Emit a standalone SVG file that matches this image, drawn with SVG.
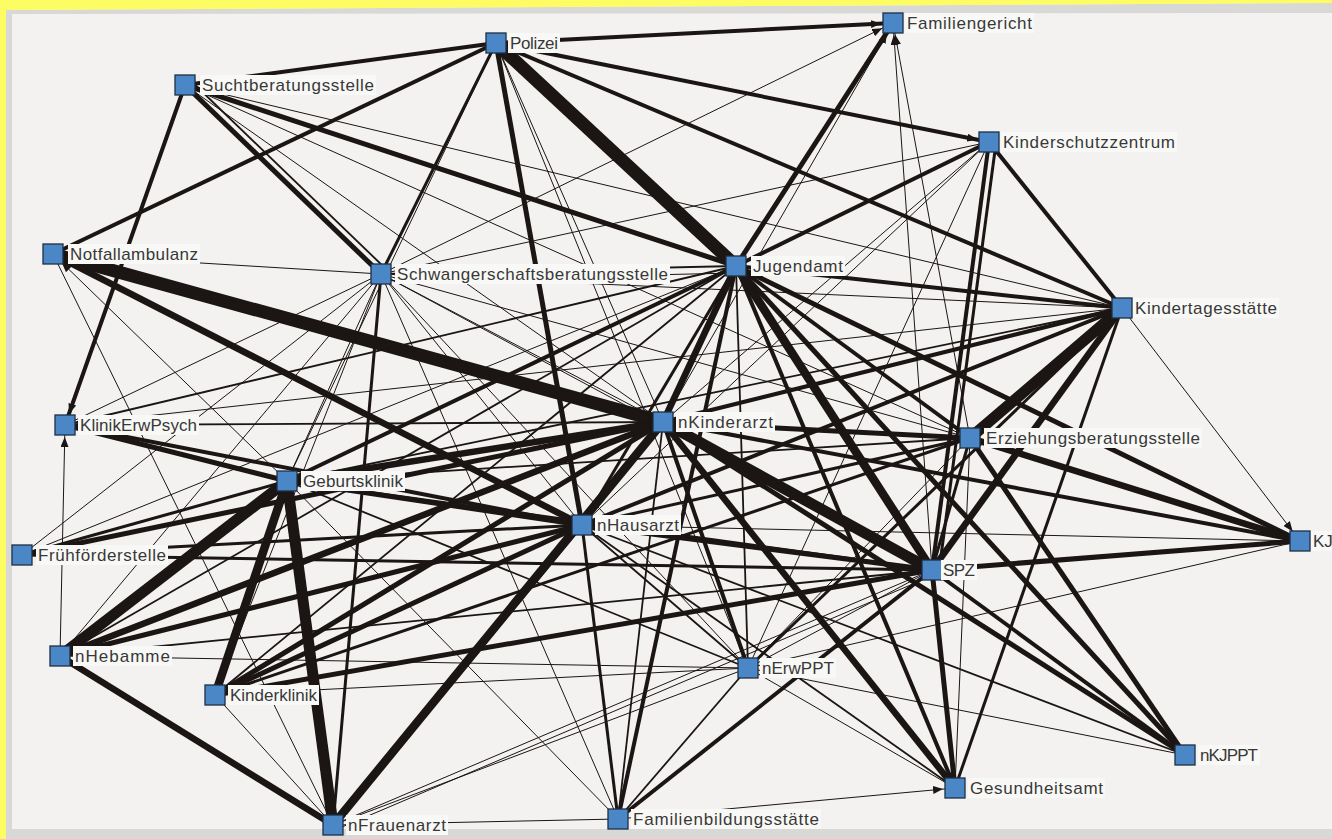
<svg xmlns="http://www.w3.org/2000/svg" width="1332" height="839" viewBox="0 0 1332 839">
<defs>
<style>
.bg{fill:#f3f2f0}
.band{fill:#d8d8d6}
.yel{fill:#fdfc63}
#edges line{stroke:#1b1513;stroke-linecap:butt}
.e1{stroke-width:1}
.e2{stroke-width:1.8}
.e3{stroke-width:3}
.e4{stroke-width:4}
.e5{stroke-width:5}
.e6{stroke-width:6.5}
.e8{stroke-width:8.5}
.e10{stroke-width:11}
.e12{stroke-width:13}
.sq{fill:#4b87c6;stroke:#1e2e44;stroke-width:1.3}
.lb{fill:#f8f8f6}
.tx{font-family:"Liberation Sans",Arial,sans-serif;font-size:17px;fill:#383838}
</style>
<marker id="arr" viewBox="0 0 10 8" markerWidth="10" markerHeight="8" refX="22" refY="4" orient="auto" markerUnits="userSpaceOnUse">
<path d="M0,0 L10,4 L0,8 z" fill="#1b1513"/>
</marker>
</defs>
<rect class="bg" x="0" y="0" width="1332" height="839"/>
<polygon class="band" points="0,10 1332,3 1332,13 0,14"/>
<rect class="band" x="6" y="0" width="6" height="839"/>
<rect class="band" x="0" y="829" width="1332" height="10"/>
<polygon class="yel" points="0,0 1332,0 1332,3 0,10"/>
<rect class="yel" x="0" y="0" width="6" height="839"/>

<g id="edges">
<line class="e4" x1="496" y1="43" x2="893" y2="23" marker-end="url(#arr)"/>
<line class="e4" x1="496" y1="43" x2="185" y2="85"/>
<line class="e4" x1="496" y1="43" x2="53" y2="254"/>
<line class="e12" x1="496" y1="43" x2="736" y2="266"/>
<line class="e4" x1="496" y1="43" x2="989" y2="142" marker-end="url(#arr)"/>
<line class="e4" x1="496" y1="43" x2="1122" y2="308"/>
<line class="e3" x1="496" y1="43" x2="381" y2="274"/>
<line class="e1" x1="496" y1="43" x2="287" y2="481"/>
<line class="e5" x1="496" y1="43" x2="582" y2="525"/>
<line class="e1" x1="496" y1="43" x2="663" y2="422"/>
<line class="e1" x1="496" y1="43" x2="748" y2="668"/>
<line class="e5" x1="736" y1="266" x2="893" y2="23"/>
<line class="e1" x1="381" y1="274" x2="893" y2="23" marker-end="url(#arr)"/>
<line class="e1" x1="663" y1="422" x2="893" y2="23" marker-end="url(#arr)"/>
<line class="e1" x1="932" y1="570" x2="893" y2="23" marker-end="url(#arr)"/>
<line class="e1" x1="970" y1="438" x2="893" y2="23" marker-end="url(#arr)"/>
<line class="e5" x1="185" y1="85" x2="381" y2="274"/>
<line class="e2" x1="190" y1="80" x2="386" y2="269"/>
<line class="e4" x1="185" y1="85" x2="65" y2="425" marker-end="url(#arr)"/>
<line class="e5" x1="185" y1="85" x2="736" y2="266"/>
<line class="e1" x1="185" y1="85" x2="970" y2="438"/>
<line class="e1" x1="185" y1="85" x2="663" y2="422"/>
<line class="e1" x1="185" y1="85" x2="1122" y2="308"/>
<line class="e1" x1="989" y1="142" x2="381" y2="274"/>
<line class="e4" x1="989" y1="142" x2="736" y2="266"/>
<line class="e1" x1="989" y1="142" x2="663" y2="422"/>
<line class="e1" x1="989" y1="142" x2="582" y2="525"/>
<line class="e4" x1="989" y1="142" x2="932" y2="570"/>
<line class="e3" x1="996" y1="143" x2="939" y2="571"/>
<line class="e1" x1="989" y1="142" x2="748" y2="668"/>
<line class="e4" x1="989" y1="142" x2="1122" y2="308"/>
<line class="e12" x1="53" y1="254" x2="663" y2="422"/>
<line class="e6" x1="53" y1="254" x2="582" y2="525"/>
<line class="e1" x1="53" y1="254" x2="381" y2="274"/>
<line class="e1" x1="53" y1="254" x2="333" y2="825"/>
<line class="e1" x1="287" y1="481" x2="53" y2="254" marker-end="url(#arr)"/>
<line class="e1" x1="381" y1="274" x2="663" y2="422"/>
<line class="e1" x1="381" y1="274" x2="582" y2="525"/>
<line class="e1" x1="381" y1="274" x2="287" y2="481"/>
<line class="e1" x1="381" y1="274" x2="65" y2="425"/>
<line class="e1" x1="381" y1="274" x2="22" y2="555"/>
<line class="e1" x1="381" y1="274" x2="60" y2="656"/>
<line class="e1" x1="381" y1="274" x2="215" y2="695"/>
<line class="e3" x1="381" y1="274" x2="333" y2="825"/>
<line class="e1" x1="381" y1="274" x2="618" y2="819"/>
<line class="e1" x1="381" y1="274" x2="748" y2="668"/>
<line class="e1" x1="381" y1="274" x2="932" y2="570"/>
<line class="e1" x1="381" y1="274" x2="970" y2="438"/>
<line class="e1" x1="381" y1="274" x2="1122" y2="308"/>
<line class="e2" x1="381" y1="274" x2="736" y2="266"/>
<line class="e1" x1="381" y1="281" x2="736" y2="273"/>
<line class="e6" x1="736" y1="266" x2="663" y2="422"/>
<line class="e3" x1="736" y1="266" x2="582" y2="525"/>
<line class="e4" x1="736" y1="266" x2="287" y2="481"/>
<line class="e2" x1="736" y1="266" x2="60" y2="656"/>
<line class="e2" x1="736" y1="266" x2="215" y2="695"/>
<line class="e2" x1="736" y1="266" x2="65" y2="425"/>
<line class="e1" x1="736" y1="266" x2="22" y2="555"/>
<line class="e8" x1="736" y1="266" x2="932" y2="570"/>
<line class="e5" x1="736" y1="266" x2="1185" y2="755"/>
<line class="e5" x1="736" y1="266" x2="1300" y2="541"/>
<line class="e4" x1="736" y1="266" x2="970" y2="438"/>
<line class="e4" x1="736" y1="266" x2="1122" y2="308"/>
<line class="e4" x1="736" y1="266" x2="955" y2="788"/>
<line class="e4" x1="736" y1="266" x2="618" y2="819"/>
<line class="e2" x1="736" y1="266" x2="748" y2="668"/>
<line class="e10" x1="1122" y1="308" x2="970" y2="438"/>
<line class="e6" x1="1122" y1="308" x2="932" y2="570"/>
<line class="e1" x1="1122" y1="308" x2="1300" y2="541" marker-end="url(#arr)"/>
<line class="e4" x1="1122" y1="308" x2="663" y2="422"/>
<line class="e4" x1="1122" y1="308" x2="582" y2="525"/>
<line class="e2" x1="1122" y1="308" x2="287" y2="481"/>
<line class="e1" x1="1122" y1="308" x2="65" y2="425"/>
<line class="e3" x1="1122" y1="308" x2="955" y2="788"/>
<line class="e3" x1="1122" y1="308" x2="748" y2="668"/>
<line class="e5" x1="663" y1="422" x2="970" y2="438"/>
<line class="e4" x1="663" y1="422" x2="1300" y2="541"/>
<line class="e10" x1="663" y1="422" x2="932" y2="570"/>
<line class="e5" x1="663" y1="422" x2="1185" y2="755"/>
<line class="e6" x1="663" y1="422" x2="955" y2="788"/>
<line class="e4" x1="663" y1="422" x2="748" y2="668"/>
<line class="e2" x1="663" y1="422" x2="618" y2="819"/>
<line class="e3" x1="663" y1="422" x2="582" y2="525"/>
<line class="e6" x1="663" y1="422" x2="287" y2="481"/>
<line class="e5" x1="663" y1="422" x2="22" y2="555"/>
<line class="e6" x1="663" y1="422" x2="60" y2="656"/>
<line class="e5" x1="663" y1="422" x2="215" y2="695"/>
<line class="e8" x1="663" y1="422" x2="333" y2="825"/>
<line class="e2" x1="663" y1="422" x2="65" y2="425"/>
<line class="e6" x1="970" y1="438" x2="1300" y2="541"/>
<line class="e5" x1="970" y1="438" x2="1185" y2="755"/>
<line class="e3" x1="970" y1="438" x2="932" y2="570"/>
<line class="e1" x1="970" y1="438" x2="955" y2="788"/>
<line class="e3" x1="970" y1="438" x2="582" y2="525"/>
<line class="e3" x1="970" y1="438" x2="215" y2="695"/>
<line class="e2" x1="970" y1="438" x2="287" y2="481"/>
<line class="e1" x1="970" y1="438" x2="748" y2="668"/>
<line class="e5" x1="582" y1="525" x2="932" y2="570"/>
<line class="e1" x1="582" y1="525" x2="1300" y2="541"/>
<line class="e2" x1="582" y1="525" x2="1185" y2="755"/>
<line class="e2" x1="582" y1="525" x2="955" y2="788"/>
<line class="e3" x1="582" y1="525" x2="618" y2="819"/>
<line class="e5" x1="582" y1="525" x2="287" y2="481"/>
<line class="e5" x1="582" y1="525" x2="60" y2="656"/>
<line class="e5" x1="582" y1="525" x2="215" y2="695"/>
<line class="e3" x1="582" y1="525" x2="22" y2="555"/>
<line class="e4" x1="582" y1="525" x2="333" y2="825"/>
<line class="e4" x1="582" y1="525" x2="65" y2="425"/>
<line class="e2" x1="582" y1="525" x2="748" y2="668"/>
<line class="e5" x1="932" y1="570" x2="1300" y2="541"/>
<line class="e5" x1="932" y1="570" x2="955" y2="788"/>
<line class="e4" x1="932" y1="570" x2="1185" y2="755"/>
<line class="e4" x1="932" y1="570" x2="618" y2="819"/>
<line class="e5" x1="932" y1="570" x2="215" y2="695"/>
<line class="e3" x1="932" y1="570" x2="22" y2="555"/>
<line class="e3" x1="932" y1="570" x2="287" y2="481"/>
<line class="e2" x1="932" y1="570" x2="60" y2="656"/>
<line class="e1" x1="932" y1="570" x2="333" y2="825"/>
<line class="e1" x1="934" y1="575" x2="335" y2="830"/>
<line class="e1" x1="932" y1="570" x2="748" y2="668"/>
<line class="e10" x1="287" y1="481" x2="60" y2="656"/>
<line class="e8" x1="287" y1="481" x2="215" y2="695"/>
<line class="e10" x1="287" y1="481" x2="333" y2="825"/>
<line class="e5" x1="287" y1="481" x2="65" y2="425"/>
<line class="e3" x1="287" y1="481" x2="22" y2="555"/>
<line class="e1" x1="287" y1="481" x2="618" y2="819"/>
<line class="e2" x1="287" y1="481" x2="748" y2="668"/>
<line class="e6" x1="60" y1="656" x2="333" y2="825"/>
<line class="e1" x1="60" y1="656" x2="748" y2="668"/>
<line class="e1" x1="60" y1="656" x2="65" y2="425" marker-end="url(#arr)"/>
<line class="e1" x1="215" y1="695" x2="333" y2="825"/>
<line class="e1" x1="215" y1="695" x2="748" y2="668"/>
<line class="e1" x1="333" y1="825" x2="618" y2="819"/>
<line class="e1" x1="333" y1="825" x2="748" y2="668"/>
<line class="e1" x1="618" y1="819" x2="955" y2="788" marker-end="url(#arr)"/>
<line class="e2" x1="618" y1="819" x2="748" y2="668"/>
<line class="e1" x1="748" y1="668" x2="1300" y2="541"/>
<line class="e1" x1="748" y1="668" x2="1185" y2="755"/>
<line class="e1" x1="748" y1="668" x2="955" y2="788"/>
</g>

<g id="node-Polizei"><rect class="sq" x="486" y="33" width="20" height="20"/><rect class="lb" x="508" y="33" width="52" height="20"/><text class="tx" x="510" y="49" textLength="48">Polizei</text></g>
<g id="node-Familiengericht"><rect class="sq" x="883" y="13" width="20" height="20"/><rect class="lb" x="905" y="13" width="129" height="20"/><text class="tx" x="907" y="29" textLength="125">Familiengericht</text></g>
<g id="node-Suchtberatungsstelle"><rect class="sq" x="175" y="75" width="20" height="20"/><rect class="lb" x="200" y="75" width="176" height="20"/><text class="tx" x="202" y="91" textLength="172">Suchtberatungsstelle</text></g>
<g id="node-Kinderschutzzentrum"><rect class="sq" x="979" y="132" width="20" height="20"/><rect class="lb" x="1001" y="132" width="176" height="20"/><text class="tx" x="1003" y="148" textLength="172">Kinderschutzzentrum</text></g>
<g id="node-Notfallambulanz"><rect class="sq" x="43" y="244" width="20" height="20"/><rect class="lb" x="68" y="244" width="132" height="20"/><text class="tx" x="70" y="260" textLength="128">Notfallambulanz</text></g>
<g id="node-Schwangerschaftsberatungsstelle"><rect class="sq" x="371" y="264" width="20" height="20"/><rect class="lb" x="395" y="264" width="275" height="20"/><text class="tx" x="397" y="280" textLength="271">Schwangerschaftsberatungsstelle</text></g>
<g id="node-Jugendamt"><rect class="sq" x="726" y="256" width="20" height="20"/><rect class="lb" x="751" y="256" width="94" height="20"/><text class="tx" x="753" y="272" textLength="90">Jugendamt</text></g>
<g id="node-Kindertagesstaette"><rect class="sq" x="1112" y="298" width="20" height="20"/><rect class="lb" x="1133" y="298" width="146" height="20"/><text class="tx" x="1135" y="314" textLength="142">Kindertagesstätte</text></g>
<g id="node-KlinikErwPsych"><rect class="sq" x="55" y="415" width="20" height="20"/><rect class="lb" x="78" y="415" width="121" height="20"/><text class="tx" x="80" y="431" textLength="117">KlinikErwPsych</text></g>
<g id="node-nKinderarzt"><rect class="sq" x="653" y="412" width="20" height="20"/><rect class="lb" x="676" y="412" width="99" height="20"/><text class="tx" x="678" y="428" textLength="95">nKinderarzt</text></g>
<g id="node-Erziehungsberatungsstelle"><rect class="sq" x="960" y="428" width="20" height="20"/><rect class="lb" x="984" y="428" width="218" height="20"/><text class="tx" x="986" y="444" textLength="214">Erziehungsberatungsstelle</text></g>
<g id="node-Geburtsklinik"><rect class="sq" x="277" y="471" width="20" height="20"/><rect class="lb" x="301" y="471" width="104" height="20"/><text class="tx" x="303" y="487" textLength="100">Geburtsklinik</text></g>
<g id="node-nHausarzt"><rect class="sq" x="572" y="515" width="20" height="20"/><rect class="lb" x="595" y="515" width="86" height="20"/><text class="tx" x="597" y="531" textLength="82">nHausarzt</text></g>
<g id="node-Fruehfoerderstelle"><rect class="sq" x="12" y="545" width="20" height="20"/><rect class="lb" x="36" y="545" width="132" height="20"/><text class="tx" x="38" y="561" textLength="128">Frühförderstelle</text></g>
<g id="node-KJ"><rect class="sq" x="1290" y="531" width="20" height="20"/><rect class="lb" x="1311" y="531" width="21" height="20"/><text class="tx" x="1313" y="547">KJ</text></g>
<g id="node-SPZ"><rect class="sq" x="922" y="560" width="20" height="20"/><rect class="lb" x="941" y="560" width="36" height="20"/><text class="tx" x="943" y="576" textLength="32">SPZ</text></g>
<g id="node-nHebamme"><rect class="sq" x="50" y="646" width="20" height="20"/><rect class="lb" x="73" y="646" width="99" height="20"/><text class="tx" x="75" y="662" textLength="95">nHebamme</text></g>
<g id="node-Kinderklinik"><rect class="sq" x="205" y="685" width="20" height="20"/><rect class="lb" x="228" y="685" width="91" height="20"/><text class="tx" x="230" y="701" textLength="87">Kinderklinik</text></g>
<g id="node-nFrauenarzt"><rect class="sq" x="323" y="815" width="20" height="20"/><rect class="lb" x="346" y="815" width="102" height="20"/><text class="tx" x="348" y="831" textLength="98">nFrauenarzt</text></g>
<g id="node-nErwPPT"><rect class="sq" x="738" y="658" width="20" height="20"/><rect class="lb" x="760" y="658" width="76" height="20"/><text class="tx" x="762" y="674" textLength="72">nErwPPT</text></g>
<g id="node-Familienbildungsstaette"><rect class="sq" x="608" y="809" width="20" height="20"/><rect class="lb" x="631" y="809" width="190" height="20"/><text class="tx" x="633" y="825" textLength="186">Familienbildungsstätte</text></g>
<g id="node-nKJPPT"><rect class="sq" x="1175" y="745" width="20" height="20"/><rect class="lb" x="1198" y="745" width="62" height="20"/><text class="tx" x="1200" y="761" textLength="58">nKJPPT</text></g>
<g id="node-Gesundheitsamt"><rect class="sq" x="945" y="778" width="20" height="20"/><rect class="lb" x="968" y="778" width="137" height="20"/><text class="tx" x="970" y="794" textLength="133">Gesundheitsamt</text></g>
</svg>
